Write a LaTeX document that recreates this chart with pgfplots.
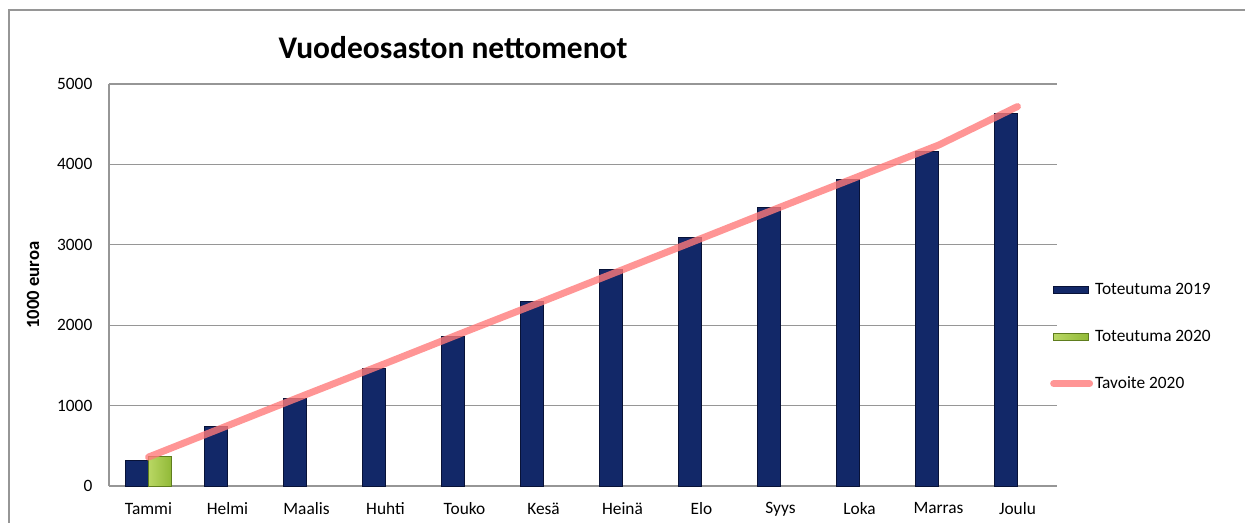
\documentclass[border=0pt]{standalone}
\usepackage{pgfplots}
\pgfplotsset{compat=1.18}
\usepackage{fontspec}
\setmainfont{Carlito}
\definecolor{navy}{RGB}{0,26,90}
\definecolor{navyl}{RGB}{18,40,104}
\definecolor{navyd}{RGB}{8,18,55}
\definecolor{grn}{RGB}{145,185,55}
\definecolor{grnd}{RGB}{95,125,30}
\definecolor{grnl}{RGB}{185,215,100}
\definecolor{tav}{RGB}{255,122,122}
\definecolor{frame}{RGB}{150,150,150}
\begin{document}
\begin{tikzpicture}[x=0.75pt,y=-0.75pt]
\path[use as bounding box] (0,0) rectangle (1245,522);
\draw[frame,line width=1.5pt] (9,530) -- (9,10) -- (1260,10);
\node[font=\fontsize{23.6}{26}\selectfont\bfseries,anchor=center] at (453,48) {Vuodeosaston nettomenot};
\begin{axis}[
  at={(81.75pt,-364.5pt)}, anchor=south west,
  scale only axis, width=711pt, height=301.5pt,
  xmin=-0.5, xmax=11.5, ymin=0, ymax=5000,
  ytick={0,1000,...,5000},
  xtick={0,...,11},
  xticklabels={Tammi,Helmi,Maalis,Huhti,Touko,Kesä,Heinä,Elo,Syys,Loka,Marras,Joulu},
  major tick length=0pt,
  axis x line*=bottom, axis y line*=left,
  axis line style={frame,line width=0.9pt,-},
  ymajorgrids, grid style={frame,line width=0.9pt},
  ticklabel style={font=\fontsize{13}{15}\selectfont},
  /pgf/number format/assume math mode=true,
  /pgf/number format/set thousands separator={},
  yticklabel style={xshift=-9pt},
  xticklabel style={yshift=-9pt},
  ylabel={\bfseries 1000 euroa},
  ylabel style={font=\fontsize{14}{16}\selectfont, anchor=center, at={(axis description cs:-0.080,0.5)}},
  legend style={at={(0.9925,0.3706)}, anchor=west, draw=none, fill=none,
    font=\fontsize{13}{15}\selectfont, row sep=22pt, inner sep=0pt,
    nodes={inner sep=1.5pt}},
  legend cell align=left,
]
\addplot[ybar, bar width=17.25pt, bar shift=-8.625pt, left color=navyl, middle color=navy, right color=navyl, draw=navyd, line width=0.5pt,
  legend image code/.code={\draw[fill=navy,draw=navyd,line width=0.5pt] (0pt,-2.5pt) rectangle (26pt,2.5pt);}]
  coordinates {(0,320) (1,740) (2,1090) (3,1460) (4,1860) (5,2300) (6,2690) (7,3090) (8,3460) (9,3810) (10,4160) (11,4630)};
\addlegendentry{Toteutuma 2019}
\addplot[ybar, bar width=17.25pt, bar shift=8.625pt, left color=grnl, right color=grn, draw=grnd, line width=0.5pt,
  legend image code/.code={\draw[left color=grnl,right color=grn,draw=grnd,line width=0.5pt] (0pt,-2.5pt) rectangle (26pt,2.5pt);}]
  coordinates {(0,370)};
\addlegendentry{Toteutuma 2020}
\addplot[tav, line width=5.2pt, line cap=round, opacity=0.8, mark=none,
  legend image code/.code={\draw[tav,line width=5.2pt,line cap=round] (0pt,0pt) -- (27pt,0pt);}]
  coordinates {(0,360) (1,750) (2,1140) (3,1525) (4,1915) (5,2300) (6,2690) (7,3080) (8,3470) (9,3855) (10,4240) (11,4720)};
\addlegendentry{Tavoite 2020}
\end{axis}
\end{tikzpicture}
\end{document}
